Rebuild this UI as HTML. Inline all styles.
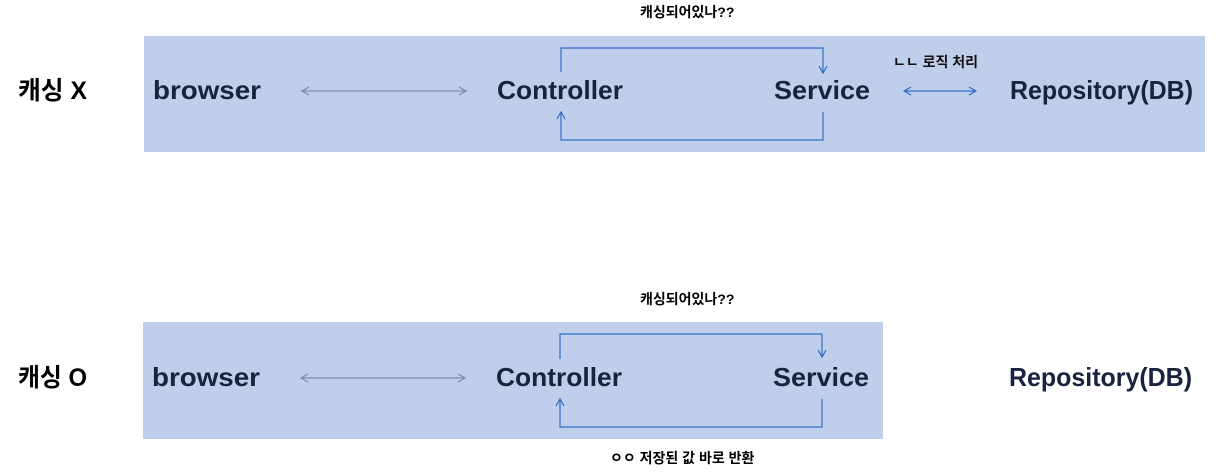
<!DOCTYPE html>
<html><head><meta charset="utf-8"><style>
body{margin:0;background:#fff;width:1221px;height:471px;overflow:hidden}
svg text{font-family:"Liberation Sans","Noto Sans CJK KR",sans-serif}
</style></head><body>
<svg width="1221" height="471" viewBox="0 0 1221 471" xmlns="http://www.w3.org/2000/svg">
<rect x="144" y="36" width="1061" height="116" fill="#bfceea"/>
<rect x="143" y="322" width="740" height="117" fill="#bfceea"/>
<g font-weight="bold" fill="#000">
<text x="18" y="99" font-size="25" textLength="69" lengthAdjust="spacingAndGlyphs">캐싱 X</text>
<text x="18" y="386" font-size="25" textLength="69" lengthAdjust="spacingAndGlyphs">캐싱 O</text>
<text x="640" y="17" font-size="14">캐싱되어있나??</text>
<text x="640" y="304" font-size="14">캐싱되어있나??</text>
<text x="610" y="463" font-size="14">ㅇㅇ 저장된 값 바로 반환</text>
</g>
<text x="893" y="67" font-size="14" font-weight="bold" fill="#111">ㄴㄴ 로직 처리</text>
<g font-size="26" font-weight="bold" fill="#17233f" lengthAdjust="spacingAndGlyphs">
<text x="153" y="99" textLength="108" lengthAdjust="spacingAndGlyphs">browser</text>
<text x="497" y="99" textLength="126" lengthAdjust="spacingAndGlyphs">Controller</text>
<text x="774" y="99" textLength="96" lengthAdjust="spacingAndGlyphs">Service</text>
<text x="1010" y="99" textLength="183" lengthAdjust="spacingAndGlyphs">Repository(DB)</text>
<text x="152" y="386" textLength="108" lengthAdjust="spacingAndGlyphs">browser</text>
<text x="496" y="386" textLength="126" lengthAdjust="spacingAndGlyphs">Controller</text>
<text x="773" y="386" textLength="96" lengthAdjust="spacingAndGlyphs">Service</text>
<text x="1009" y="386" textLength="183" lengthAdjust="spacingAndGlyphs">Repository(DB)</text>
</g>
<g fill="none" stroke-width="1.2">
<g stroke="#7d8db0">
<path d="M302 91H466M309 87L302 91L309 95M459 87L466 91L459 95"/>
<path d="M301 378H465M308 374L301 378L308 382M458 374L465 378L458 382"/>
</g>
<g stroke="#2f6fc4">
<path d="M904 91H976M911 87L904 91L911 95M969 87L976 91L969 95"/>
<path d="M561 72V48H823V73M819 66L823 73L827 66"/>
<path d="M823 112V140H561V112M557 119L561 112L565 119"/>
<path d="M560 359V334H822V357M818 350L822 357L826 350"/>
<path d="M822 399V427H560V399M556 406L560 399L564 406"/>
</g>
</g>
</svg>
</body></html>
